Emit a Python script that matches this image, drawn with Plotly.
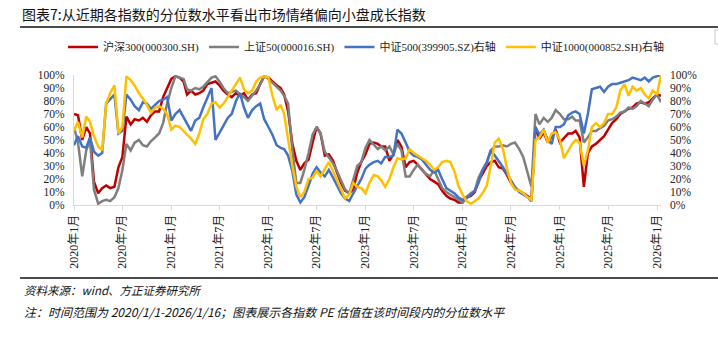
import plotly.graph_objects as go

# ---------------- data ----------------
# semi-monthly sampling dates (1st and 16th of each month), 2020-01-01 .. 2026-01-16
dates = []
for yr in range(2020, 2027):
    for mo in range(1, 13):
        if yr == 2026 and mo > 1:
            break
        dates.append(f"{yr}-{mo:02d}-01")
        dates.append(f"{yr}-{mo:02d}-16")

hs300 = [70, 69, 50, 60, 55, 18, 9, 13, 15, 13,
         14, 29, 37, 68, 62, 66, 65, 67, 64, 69,
         72, 72, 83, 90, 97, 99, 98, 95, 85, 88,
         85, 86, 88, 93, 94, 95, 92, 88, 85, 83,
         86, 84, 86, 81, 85, 86, 93, 99, 98, 95,
         92, 90, 85, 72, 47, 34, 27, 32, 35, 48,
         60, 55, 38, 39, 34, 25, 17, 11, 9, 12,
         25, 33, 39, 47, 48, 47, 45, 45, 34, 39,
         50, 45, 29, 33, 34, 31, 27, 24, 20, 18,
         16, 11, 7, 5, 4, 2, 2, 6, 7, 10,
         19, 24, 30, 33, 34, 29, 28, 23, 17, 13,
         11, 9, 7, 4, 60, 51, 56, 48, 53, 58,
         48, 51, 55, 55, 57, 52, 14, 40, 45, 47,
         50, 53, 58, 63, 66, 70, 72, 74, 75, 78,
         79, 78, 79, 82, 85, 84]

sz50 = [60, 48, 22, 42, 50, 12, 1, 3, 4, 3,
        6, 13, 27, 47, 42, 48, 50, 46, 45, 49,
        52, 55, 63, 78, 90, 99, 98, 97, 89, 88,
        90, 89, 91, 94, 98, 99, 95, 90, 86, 87,
        88, 85, 83, 80, 84, 88, 93, 99, 97, 94,
        91, 88, 84, 78, 42, 17, 17, 27, 40, 54,
        60, 55, 41, 37, 32, 26, 19, 12, 9, 20,
        30, 33, 44, 50, 46, 43, 45, 42, 45, 39,
        47, 42, 22, 22, 27, 31, 27, 24, 22, 27,
        20, 13, 10, 8, 6, 4, 2, 6, 9, 11,
        21, 27, 32, 42, 45, 45, 46, 45, 47, 48,
        43, 37, 25, 14, 70, 62, 67, 64, 67, 73,
        70, 66, 66, 68, 65, 65, 48, 52, 57, 57,
        59, 61, 65, 66, 68, 71, 72, 75, 74, 76,
        80, 78, 76, 81, 85, 79]

zz500 = [46, 53, 45, 44, 52, 41, 38, 40, 78, 81,
         85, 55, 57, 85, 81, 76, 73, 79, 78, 74,
         77, 80, 81, 83, 65, 70, 73, 67, 62, 57,
         65, 67, 75, 83, 90, 50, 55, 61, 67, 70,
         80, 86, 75, 67, 73, 76, 78, 66, 60, 54,
         46, 44, 43, 38, 26, 8, 2, 6, 15, 24,
         29, 25, 22, 27, 21, 15, 9, 5, 3, 9,
         15, 20, 28, 31, 33, 34, 32, 37, 37, 38,
         58, 55, 48, 41, 38, 37, 35, 31, 27, 25,
         27, 20, 13, 11, 9, 6, 4, 5, 8, 11,
         17, 27, 33, 42, 38, 34, 29, 24, 19, 14,
         10, 8, 6, 3, 60, 54, 58, 50, 47, 60,
         60, 62, 69, 71, 72, 70, 55, 70, 89, 90,
         91, 87, 91, 93, 93, 94, 95, 96, 98, 97,
         96, 98, 95, 98, 99, 100]

zz1000 = [57, 64, 52, 68, 64, 53, 45, 42, 78, 86,
          92, 55, 60, 99, 96, 92, 86, 82, 77, 71,
          75, 76, 74, 70, 58, 61, 60, 57, 54, 51,
          47, 55, 66, 70, 78, 79, 75, 78, 83, 88,
          94, 98, 89, 86, 88, 95, 98, 99, 98, 84,
          73, 77, 70, 50, 30, 14, 6, 10, 20, 21,
          26, 22, 28, 33, 26, 19, 13, 5, 8, 17,
          14, 13, 9, 17, 23, 22, 19, 14, 20, 29,
          36, 35, 36, 43, 40, 38, 36, 34, 31, 27,
          29, 33, 34, 33, 26, 15, 8, 3, 1, 3,
          5, 9, 15, 30, 48, 51, 43, 28, 17, 12,
          11, 9, 6, 4, 50, 52, 58, 48, 55, 56,
          50, 36, 42, 47, 50, 48, 30, 42, 60, 63,
          60, 63, 70, 70, 75, 88, 93, 84, 91, 88,
          90, 85, 82, 88, 85, 100]

series_names = ["沪深300(000300.SH)", "上证50(000016.SH)",
                "中证500(399905.SZ)右轴", "中证1000(000852.SH)右轴"]

x_tick_vals = ["2020-01-01", "2020-07-01", "2021-01-01", "2021-07-01", "2022-01-01",
               "2022-07-01", "2023-01-01", "2023-07-01", "2024-01-01", "2024-07-01",
               "2025-01-01", "2025-07-01", "2026-01-01"]
x_tick_labels = ["2020年1月", "2020年7月", "2021年1月", "2021年7月", "2022年1月",
                 "2022年7月", "2023年1月", "2023年7月", "2024年1月", "2024年7月",
                 "2025年1月", "2025年7月", "2026年1月"]
y_tick_vals = [0, 10, 20, 30, 40, 50, 60, 70, 80, 90, 100]
y_tick_labels = ["0%", "10%", "20%", "30%", "40%", "50%", "60%", "70%", "80%", "90%", "100%"]

title_text = "图表7:从近期各指数的分位数水平看出市场情绪偏向小盘成长指数"
source_text = "资料来源：wind、方正证券研究所"
note_text = "注：时间范围为 2020/1/1-2026/1/16；图表展示各指数 PE 估值在该时间段内的分位数水平"

# ---------------- layout geometry ----------------
W, H = 718, 341
L, R, T, B = 74, 57, 75, 136
PW, PH = W - L - R, H - T - B


def px(xp):
    return (xp - L) / PW


def py(yp):
    return (H - B - yp) / PH


SERIF = "Liberation Serif, Noto Sans CJK SC, serif"
CJK = "Noto Sans CJK SC, sans-serif"

colors = ["#C00000", "#7F7F7F", "#4472C4", "#FFC000"]
values = [hs300, sz50, zz500, zz1000]
axes = ["y", "y", "y2", "y2"]

fig = go.Figure()
for name, vals, col, ax in zip(series_names, values, colors, axes):
    fig.add_trace(go.Scatter(x=dates, y=vals, name=name, mode="lines",
                             line=dict(color=col, width=2.5), yaxis=ax))

fig.update_layout(
    width=W, height=H,
    margin=dict(l=L, r=R, t=T, b=B, pad=0),
    paper_bgcolor="white", plot_bgcolor="white",
    title=dict(text=title_text, xref="container", yref="container",
               x=22 / W, xanchor="left", y=1 - 15 / H, yanchor="middle",
               font=dict(family=CJK, size=14, color="#111")),
    legend=dict(orientation="h", x=px(63), xanchor="left",
                y=py(47), yanchor="middle",
                font=dict(family=SERIF, size=11, color="#222"),
                bgcolor="rgba(0,0,0,0)", itemwidth=30, tracegroupgap=0),
    xaxis=dict(type="date", range=["2020-01-01", "2026-01-16"],
               tickmode="array", tickvals=x_tick_vals, ticktext=x_tick_labels,
               tickangle=-90, ticks="outside", ticklen=4, tickcolor="#D9D9D9",
               showline=True, linecolor="#D9D9D9", linewidth=1,
               showgrid=False, zeroline=False,
               tickfont=dict(family=SERIF, size=12, color="#222")),
    yaxis=dict(range=[0, 100], tickmode="array", tickvals=y_tick_vals,
               ticktext=y_tick_labels, ticks="", showline=True,
               linecolor="#D9D9D9", linewidth=1, showgrid=False, zeroline=False,
               ticklabelstandoff=6,
               tickfont=dict(family=SERIF, size=11.5, color="#222")),
    yaxis2=dict(range=[0, 100], overlaying="y", side="right", tickmode="array",
                tickvals=y_tick_vals, ticktext=y_tick_labels, ticks="",
                showline=False, showgrid=False, zeroline=False,
                ticklabelstandoff=8,
                tickfont=dict(family=SERIF, size=11.5, color="#222")),
    showlegend=True,
)

# rules under title and above the source notes
fig.add_shape(type="line", xref="paper", yref="paper",
              x0=px(20), x1=px(718), y0=py(27), y1=py(27),
              line=dict(color="#111", width=1.5))
fig.add_shape(type="line", xref="paper", yref="paper",
              x0=px(20), x1=px(718), y0=py(278), y1=py(278),
              line=dict(color="#111", width=1.5))
# small clipped frame at the right edge
fig.add_shape(type="rect", xref="paper", yref="paper",
              x0=px(715), x1=px(720), y0=py(44), y1=py(30),
              line=dict(color="#C8C8C8", width=1))

fig.add_annotation(text=source_text, xref="paper", yref="paper",
                   x=px(22), y=py(290), xanchor="left", yanchor="middle",
                   showarrow=False,
                   font=dict(family=CJK, size=11.5, color="#111", style="italic"))
fig.add_annotation(text=note_text, xref="paper", yref="paper",
                   x=px(22), y=py(311), xanchor="left", yanchor="middle",
                   showarrow=False,
                   font=dict(family=CJK, size=12, color="#111", style="italic"))

fig.write_html("out.html")
